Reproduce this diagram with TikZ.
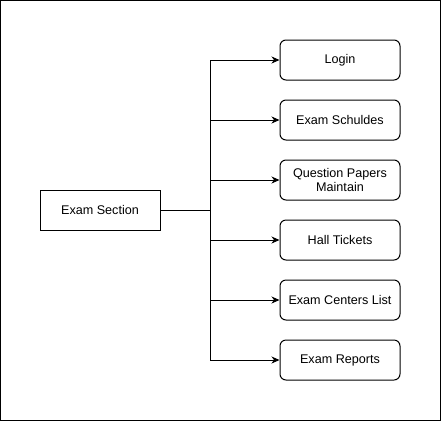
\documentclass[tikz,border=0pt]{standalone}
\usepackage{fontspec}
\setmainfont{Liberation Sans}
\usetikzlibrary{arrows.meta}
\begin{document}
\begin{tikzpicture}[x=1pt,y=-1pt,
  lw/.style={line width=1pt},
  sub/.style={draw,lw,rounded corners=6pt,minimum width=120pt,minimum height=40pt,inner sep=0pt,align=center,font=\fontsize{12.6pt}{14.5pt}\selectfont},
  root/.style={draw,lw,minimum width=120pt,minimum height=40pt,inner sep=0pt,font=\fontsize{12.6pt}{14.5pt}\selectfont},
  conn/.style={lw,-{Stealth[length=8pt,width=7pt,inset=2.5pt]}}]
\useasboundingbox (0,0) rectangle (441,421);
\draw[lw] (0.5,0.5) rectangle (440.5,420.5);
\node[root] (es) at (100,210) {Exam Section};
\node[sub] (b1) at (340,60) {Login};
\node[sub] (b2) at (340,120) {Exam Schuldes};
\node[sub] (b3) at (340,180) {Question Papers\\Maintain};
\node[sub] (b4) at (340,240) {Hall Tickets};
\node[sub] (b5) at (340,300) {Exam Centers List};
\node[sub] (b6) at (340,360) {Exam Reports};
\coordinate (t) at (210,210);
\draw[lw] (es.east) -- (t);
\foreach \b in {b1,b2,b3,b4,b5,b6}{
  \draw[conn] (t) |- (\b.west);
}
\end{tikzpicture}
\end{document}
